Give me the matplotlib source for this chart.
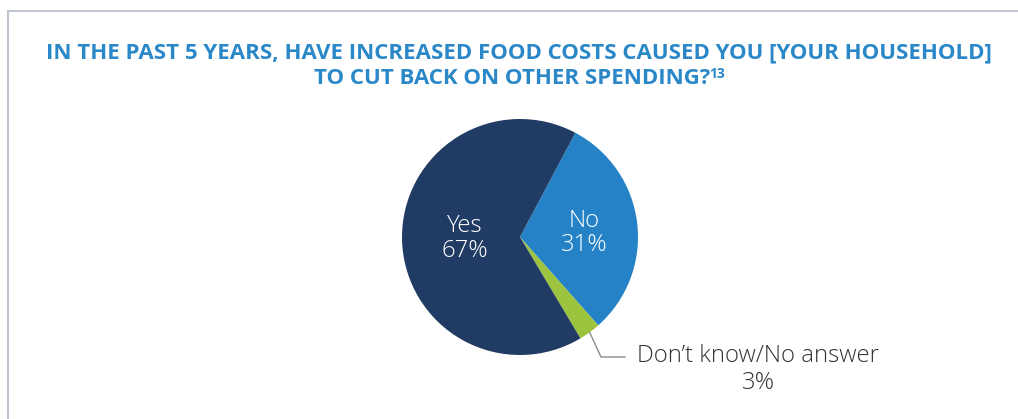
import numpy as np
import matplotlib
matplotlib.use("Agg")
from matplotlib import pyplot as plt

plt.rcParams['font.family'] = ['Open Sans', 'DejaVu Sans']
plt.rcParams['font.stretch'] = 'normal'

# Respuestas (orden horario desde la parte superior derecha)
categorias = ["No", "Don\u2019t know/No answer", "Yes"]
valores = [31, 3, 67]
colores = ["#2682C6", "#9DC43E", "#213C64"]

titulo_1 = "IN THE PAST 5 YEARS, HAVE INCREASED FOOD COSTS CAUSED YOU [YOUR HOUSEHOLD]"
titulo_2 = "TO CUT BACK ON OTHER SPENDING?"
nota = "13"

W, H = 1018, 419
fig = plt.figure(figsize=(W / 100, H / 100), dpi=100)

# marco gris (solo arriba e izquierda)
fig.add_artist(plt.Line2D([8 / W, 8 / W], [0, 1 - 11 / H], color="#BFC6D2", lw=1.5))
fig.add_artist(plt.Line2D([8 / W, 1], [1 - 11 / H, 1 - 11 / H], color="#BFC6D2", lw=1.5))

azul_titulo = "#2A87C8"
fuente_titulo = dict(fontweight="bold", fontstretch="normal", color=azul_titulo)
t1 = fig.text(519 / W, 1 - 53 / H, titulo_1, ha="center", va="center", fontsize=16,
              **fuente_titulo)
t2 = fig.text(512.5 / W, 1 - 78.5 / H, titulo_2, ha="center", va="center", fontsize=16,
              **fuente_titulo)
t3 = fig.text(0, 0, nota, fontsize=10, va="top", **fuente_titulo)
# superindice pegado al final de la segunda linea
fig.canvas.draw()
bb = t2.get_window_extent()
t3.set_position(((bb.x1 - 1) / W, 1 - 67 / H))

# tarta
cx, cy, r = 520, 237, 118
ax = fig.add_axes([(cx - r) / W, (H - cy - r) / H, 2 * r / W, 2 * r / H])
cunas, _ = ax.pie(valores, colors=colores, startangle=62, counterclock=False,
                  radius=1, wedgeprops=dict(linewidth=0))
ax.set_xlim(-1, 1)
ax.set_ylim(-1, 1)
ax.set_aspect("equal")
ax.axis("off")

def punto(cuna, dist):
    ang = np.deg2rad((cuna.theta1 + cuna.theta2) / 2)
    return dist * np.cos(ang), dist * np.sin(ang)

fuente_fina = dict(fontweight="light", fontstretch="normal")

# etiquetas dentro de la tarta
for cuna, nombre, v, d, dy in [(cunas[0], categorias[0], valores[0], 0.545, -0.03),
                               (cunas[2], categorias[2], valores[2], 0.47, 0.0)]:
    x, y = punto(cuna, d)
    ax.text(x, y + dy, "%s\n%d%%" % (nombre, v), ha="center", va="center", color="white",
            fontsize=17.2, linespacing=1.05, **fuente_fina)

# linea guia para la porcion pequeña
x0, y0 = punto(cunas[1], 1.0)
x1, y1 = (601 - cx) / r, (cy - 357) / r
x2 = (625 - cx) / r
ax.plot([x0, x1, x2], [y0, y1, y1], color="#8C8C8C", lw=1, clip_on=False)
ax.text((758 - cx) / r, (cy - 356) / r, categorias[1], ha="center", va="center",
        color="#333333", fontsize=17.2, clip_on=False, **fuente_fina)
ax.text((758 - cx) / r, (cy - 383) / r, "%d%%" % valores[1], ha="center", va="center",
        color="#333333", fontsize=17.2, clip_on=False, **fuente_fina)

plt.savefig("out.png", dpi=100)
